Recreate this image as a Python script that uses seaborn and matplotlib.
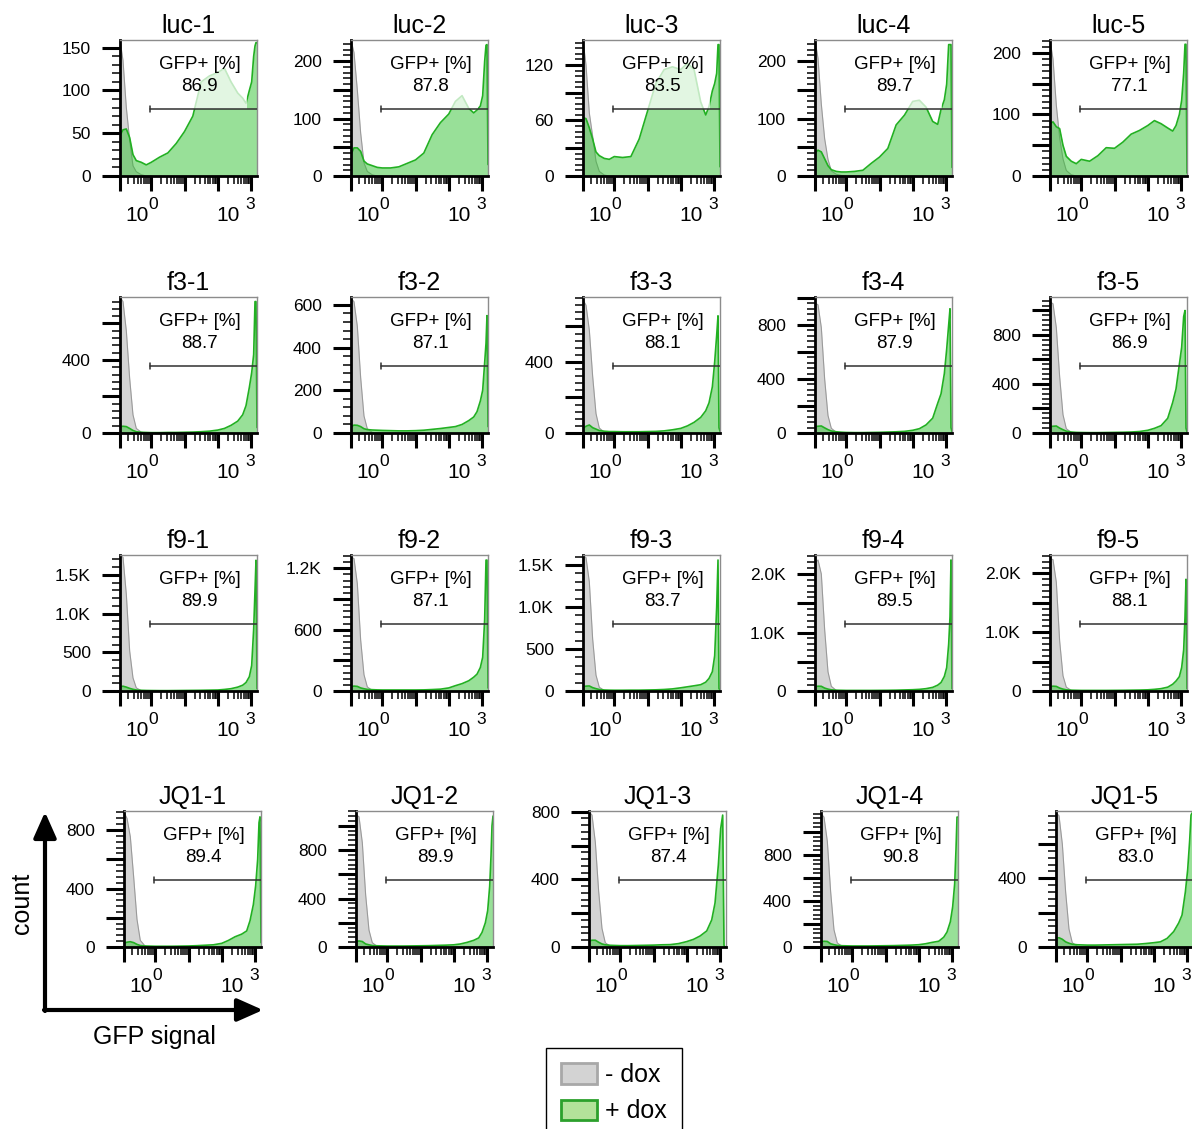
import numpy as np
import pandas as pd
import matplotlib
matplotlib.use("Agg")
import matplotlib.pyplot as plt
import matplotlib.transforms as mtransforms
from matplotlib.ticker import FixedLocator, FuncFormatter, NullFormatter
from matplotlib.patches import Rectangle, Patch
import seaborn as sns

sns.set_style("ticks")
plt.rcParams['font.family'] = ['Liberation Sans', 'DejaVu Sans']
plt.rcParams['text.color'] = 'black'
plt.rcParams['xtick.color'] = 'black'
plt.rcParams['ytick.color'] = 'black'

#%% data: GFP signal in log10 units, counts
signal_log = [-0.94, -0.85, -0.75, -0.65, -0.55, -0.45, -0.3, -0.15, 0.0, 0.25, 0.5, 0.75,
              1.0, 1.25, 1.5, 1.75, 2.0, 2.2, 2.4, 2.6, 2.75, 2.85, 2.95, 3.02, 3.08, 3.12, 3.15, 3.18]
gray_log = [-0.94, -0.85, -0.75, -0.65, -0.55, -0.45, -0.3, -0.15, 0.0]

samples = ['luc-1', 'luc-2', 'luc-3', 'luc-4', 'luc-5',
           'f3-1', 'f3-2', 'f3-3', 'f3-4', 'f3-5',
           'f9-1', 'f9-2', 'f9-3', 'f9-4', 'f9-5',
           'JQ1-1', 'JQ1-2', 'JQ1-3', 'JQ1-4', 'JQ1-5']
gfp_pct = [86.9, 87.8, 83.5, 89.7, 77.1,
           88.7, 87.1, 88.1, 87.9, 86.9,
           89.9, 87.1, 83.7, 89.5, 88.1,
           89.4, 89.9, 87.4, 90.8, 83.0]
y_top = [159, 237, 147, 237, 221,
         745, 637, 766, 1007, 1110,
         1758, 1330, 1620, 2325, 2313,
         930, 1122, 804, 1183, 792]
y_labeled = [[0, 50, 100, 150], [0, 100, 200], [0, 60, 120], [0, 100, 200], [0, 100, 200],
             [0, 400], [0, 200, 400, 600], [0, 400], [0, 400, 800], [0, 400, 800],
             [0, 500, 1000, 1500], [0, 600, 1200], [0, 500, 1000, 1500], [0, 1000, 2000], [0, 1000, 2000],
             [0, 400, 800], [0, 400, 800], [0, 400, 800], [0, 400, 800], [0, 400]]
y_major_step = [50, 50, 30, 50, 50,
                200, 200, 200, 200, 200,
                500, 300, 500, 500, 500,
                200, 200, 200, 200, 200]
x_decade_labels = ['0', '3']

green_luc = [
    [47, 54, 55, 45, 25, 18, 16, 13, 16, 22, 27, 38, 52, 70, 110, 117, 121, 126, 110, 97, 91, 85, 100, 110, 140, 152, 156, 156],
    [37, 49, 49, 43, 26, 21, 18, 15, 14, 14, 16, 22, 28, 40, 72, 93, 108, 130, 140, 118, 110, 115, 122, 140, 200, 228, 229, 20],
    [63, 62, 52, 40, 26, 22, 19, 18, 21, 20, 21, 40, 70, 100, 115, 118, 115, 122, 115, 80, 66, 75, 92, 100, 111, 142, 142, 10],
    [40, 45, 42, 30, 18, 11, 8, 7, 7, 8, 10, 22, 33, 48, 89, 106, 130, 132, 120, 95, 90, 116, 133, 160, 229, 229, 229, 15],
    [85, 88, 80, 77, 50, 32, 24, 20, 27, 24, 33, 46, 45, 55, 68, 74, 82, 90, 85, 78, 73, 82, 100, 123, 167, 214, 214, 5],
]
green_f3 = [
    [35, 37, 35, 25, 14, 7, 4, 3, 2, 2, 3, 3, 4, 5, 7, 10, 16, 25, 42, 65, 100, 150, 250, 330, 430, 720, 720, 30],
    [29, 37, 36, 30, 20, 16, 14, 13, 12, 11, 10, 10, 11, 13, 17, 21, 26, 30, 40, 58, 75, 100, 150, 200, 330, 420, 550, 30],
    [26, 38, 45, 30, 22, 14, 10, 8, 8, 7, 7, 7, 8, 9, 12, 18, 26, 40, 60, 88, 125, 170, 260, 400, 550, 660, 30, 10],
    [47, 50, 52, 38, 25, 15, 9, 6, 4, 3, 3, 4, 5, 7, 9, 12, 20, 32, 60, 110, 220, 290, 440, 620, 800, 920, 40, 10],
    [52, 55, 57, 40, 27, 15, 8, 5, 4, 3, 3, 4, 5, 6, 8, 12, 22, 38, 60, 120, 250, 360, 560, 700, 950, 1000, 40, 10],
]
green_f9 = [
    [55, 62, 50, 34, 22, 13, 9, 7, 6, 5, 5, 6, 7, 8, 9, 11, 13, 20, 30, 50, 75, 110, 185, 330, 800, 1300, 1690, 30],
    [42, 48, 45, 30, 22, 16, 13, 11, 10, 10, 10, 10, 10, 11, 14, 18, 30, 52, 72, 100, 135, 165, 230, 330, 700, 1280, 1280, 30],
    [52, 58, 60, 40, 28, 18, 12, 10, 9, 9, 10, 10, 12, 14, 18, 25, 38, 50, 62, 75, 105, 150, 230, 420, 1000, 1560, 30, 10],
    [74, 82, 80, 50, 32, 20, 14, 12, 10, 10, 10, 10, 11, 12, 14, 18, 22, 28, 40, 62, 100, 145, 250, 400, 800, 1270, 2240, 40],
    [74, 82, 78, 50, 32, 20, 14, 12, 10, 10, 10, 10, 11, 12, 14, 16, 20, 28, 40, 65, 115, 170, 244, 400, 700, 1260, 1900, 40],
]
green_jq1 = [
    [25, 33, 36, 30, 18, 10, 7, 6, 5, 5, 5, 6, 7, 9, 12, 15, 25, 45, 70, 88, 110, 180, 290, 420, 600, 850, 890, 30],
    [44, 50, 45, 25, 18, 12, 10, 9, 8, 8, 8, 9, 10, 11, 13, 15, 18, 25, 38, 55, 75, 120, 200, 300, 500, 750, 1000, 1080],
    [35, 40, 40, 28, 18, 13, 10, 9, 8, 8, 9, 10, 11, 13, 14, 20, 32, 45, 65, 95, 160, 260, 485, 700, 780, 10, 0, 0],
    [46, 50, 48, 28, 20, 14, 11, 10, 9, 9, 9, 10, 11, 12, 14, 16, 20, 28, 40, 50, 85, 130, 220, 350, 550, 850, 1130, 1130],
    [50, 54, 45, 30, 22, 16, 13, 12, 11, 11, 12, 13, 14, 15, 16, 20, 25, 30, 50, 90, 140, 186, 320, 450, 620, 768, 780, 780],
]

gray_luc = [
    [159, 135, 80, 42, 12, 5, 1.5, 0, 0],
    [237, 215, 150, 75, 23, 8, 2, 0, 0],
    [147, 120, 68, 43, 16, 5, 1, 0, 0],
    [237, 205, 125, 65, 29, 9, 3, 1, 0],
    [221, 190, 115, 62, 28, 9, 2, 0, 0],
]
gray_f3 = [
    [745, 720, 560, 300, 100, 25, 4, 0, 0],
    [630, 615, 500, 260, 80, 20, 3, 0, 0],
    [750, 720, 580, 320, 110, 28, 4, 0, 0],
    [960, 950, 780, 400, 130, 35, 5, 0, 0],
    [1070, 1055, 860, 460, 150, 35, 5, 0, 0],
]
gray_f9 = [
    [1750, 1730, 1250, 520, 170, 40, 5, 0, 0],
    [1310, 1295, 1050, 500, 160, 40, 5, 0, 0],
    [1610, 1590, 1300, 620, 190, 45, 6, 0, 0],
    [2180, 2240, 2000, 1050, 330, 80, 10, 0, 0],
    [2250, 2235, 1850, 850, 260, 65, 10, 0, 0],
]
gray_jq1 = [
    [920, 880, 754, 480, 190, 45, 5, 0, 0],
    [1090, 1075, 860, 430, 140, 35, 5, 0, 0],
    [800, 780, 620, 330, 110, 25, 4, 0, 0],
    [1160, 1130, 920, 480, 150, 35, 5, 0, 0],
    [780, 765, 600, 320, 105, 25, 4, 0, 0],
]

green_counts = green_luc + green_f3 + green_f9 + green_jq1
gray_counts = gray_luc + gray_f3 + gray_f9 + gray_jq1

#%% layout (pixels)
W, H = 1192, 1129
row_top = [40, 297, 555, 811]
col_left = [[120, 351, 583, 815, 1050]] * 3 + [[124, 356, 589, 821, 1056]]
ax_w, ax_h = 137, 136
x_lo, x_hi = -0.94, 3.18
gate_x, gate_y = -0.04, 0.49

GREEN_FILL = (0.2, 0.76, 0.2)
GREEN_LINE = '#22b022'

def count_fmt(v):
    if v >= 1000:
        return f"{v/1000:.1f}K"
    return f"{v:g}"

minor_x = [np.log10(k) + d for d in (-1, 0, 1, 2) for k in range(2, 10)]
minor_x = [m for m in minor_x if x_lo < m < x_hi]

fig = plt.figure(figsize=(W / 100, H / 100), dpi=100)

for i, name in enumerate(samples):
    r, c = divmod(i, 5)
    ax = fig.add_axes([col_left[r][c] / W, 1 - (row_top[r] + ax_h) / H, ax_w / W, ax_h / H])

    df_gray = pd.DataFrame({'signal': gray_log, 'count': gray_counts[i]})
    df_green = pd.DataFrame({'signal': signal_log, 'count': green_counts[i]})

    ax.fill_between(df_gray['signal'], df_gray['count'], color='#d4d4d4', lw=0, zorder=1)
    sns.lineplot(data=df_gray, x='signal', y='count', ax=ax, color='#9a9a9a', lw=0.8, zorder=1.5)
    ax.fill_between(df_green['signal'], df_green['count'], color=GREEN_FILL, alpha=0.5, lw=0, zorder=2)
    sns.lineplot(data=df_green, x='signal', y='count', ax=ax, color=GREEN_LINE, lw=1.2, zorder=2.2)

    # pale box behind the gate label
    ax.add_patch(Rectangle((0.27, gate_y), 0.655, 0.44, transform=ax.transAxes,
                           fc='white', alpha=0.72, lw=0, zorder=3))

    trans = mtransforms.blended_transform_factory(ax.transData, ax.transAxes)
    ax.plot([gate_x, x_hi], [gate_y, gate_y], transform=trans, color='#303030', lw=1.1, zorder=4)
    ax.plot([gate_x, gate_x], [gate_y - 0.022, gate_y + 0.022], transform=trans,
            color='#303030', lw=1.1, zorder=4)
    ax.text(0.58, 0.82, 'GFP+ [%]', transform=ax.transAxes, ha='center', va='center',
            fontsize=13.5, zorder=5)
    ax.text(0.58, 0.655, f"{gfp_pct[i]:.1f}", transform=ax.transAxes, ha='center', va='center',
            fontsize=13.5, zorder=5)

    ax.set_title(name, fontsize=18, pad=5)
    ax.set_xlim(x_lo, x_hi)
    ax.set_ylim(0, y_top[i])
    ax.set(xlabel='', ylabel='')

    # x axis: decades with log minor ticks; decade labels drawn as 10 + raised exponent
    ax.xaxis.set_major_locator(FixedLocator([x_lo, 0, 1, 2, 3]))
    ax.xaxis.set_minor_locator(FixedLocator(minor_x))
    ax.xaxis.set_major_formatter(NullFormatter())
    for base_x, exp_x, e in zip([0.125, 0.79], [0.24, 0.948], x_decade_labels):
        ax.text(base_x, -0.331, '10', transform=ax.transAxes, ha='center', va='baseline',
                fontsize=15, clip_on=False)
        ax.text(exp_x, -0.24, e, transform=ax.transAxes, ha='center', va='baseline',
                fontsize=12.5, clip_on=False)

    # y axis
    step = y_major_step[i]
    majors = np.arange(0, y_top[i] + 1e-9, step)
    minors = np.arange(0, y_top[i] + 1e-9, step / 5)
    labeled = y_labeled[i]
    ax.yaxis.set_major_locator(FixedLocator(majors))
    ax.yaxis.set_minor_locator(FixedLocator(minors))
    ax.yaxis.set_major_formatter(FuncFormatter(
        lambda v, p, labeled=labeled: count_fmt(v) if any(abs(v - l) < 1e-6 for l in labeled) else ''))

    ax.tick_params(axis='x', which='major', length=11, width=2.2, pad=2)
    ax.tick_params(axis='x', which='minor', length=6, width=1.1)
    ax.tick_params(axis='y', which='major', length=13, width=2.2, pad=8, labelsize=12.5)
    ax.tick_params(axis='y', which='minor', length=6, width=1.1)

    for s in ['left', 'bottom']:
        ax.spines[s].set_color('black')
        ax.spines[s].set_linewidth(2)
    for s in ['top', 'right']:
        ax.spines[s].set_color('#8c8c8c')
        ax.spines[s].set_linewidth(1)

#%% axis arrows and labels
overlay = fig.add_axes([0, 0, 1, 1])
overlay.set_axis_off()
overlay.set_xlim(0, W)
overlay.set_ylim(H, 0)
arrow = dict(arrowstyle='-|>,head_length=0.45,head_width=0.2', mutation_scale=35,
             lw=3, color='black', shrinkA=0, shrinkB=0)
overlay.annotate('', xy=(45, 812), xytext=(45, 1011), arrowprops=arrow)
overlay.annotate('', xy=(263, 1010), xytext=(44, 1010), arrowprops=arrow)
overlay.text(22, 903, 'count', rotation=90, ha='center', va='center', fontsize=18)
overlay.text(154, 1037, 'GFP signal', ha='center', va='center', fontsize=18)

handles = [Patch(fc='#d3d3d3', ec='#a8a8a8', lw=2, label='- dox'),
           Patch(fc='#b3e29a', ec='#2ca02c', lw=2, label='+ dox')]
leg = fig.legend(handles=handles, loc='upper left', bbox_to_anchor=(546 / W, 1 - 1048 / H),
                 fontsize=18, frameon=True, fancybox=False, edgecolor='black', framealpha=1,
                 borderpad=0.6, handlelength=1.45, handleheight=0.9, handletextpad=0.3,
                 labelspacing=0.5, borderaxespad=0)
leg.get_frame().set_linewidth(1)

fig.savefig('out.png', dpi=100)
